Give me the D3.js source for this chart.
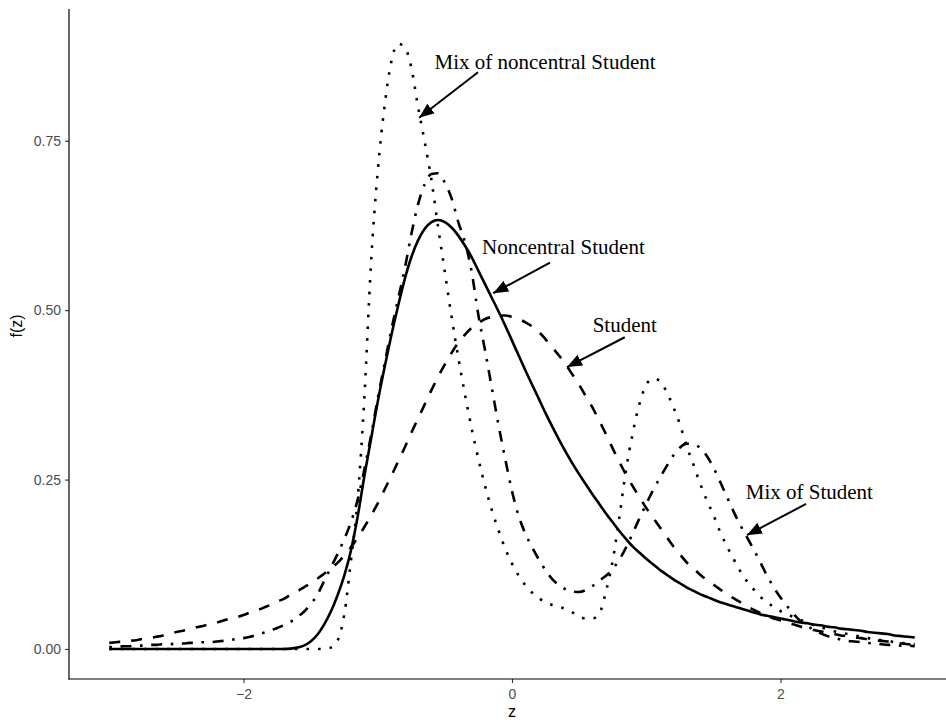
<!DOCTYPE html>
<html>
<head>
<meta charset="utf-8">
<script src="https://cdn.jsdelivr.net/npm/d3@7"></script>
<style>
  html, body { margin: 0; padding: 0; background: #fff; }
  svg { display: block; }
</style>
</head>
<body>
<svg id="chart" width="946" height="722"></svg>
<script>
// ---------- data ----------
const z = [
 -3.00,-2.95,-2.90,-2.85,-2.80,-2.75,-2.70,-2.65,-2.60,-2.55,
 -2.50,-2.45,-2.40,-2.35,-2.30,-2.25,-2.20,-2.15,-2.10,-2.05,
 -2.00,-1.95,-1.90,-1.85,-1.80,-1.75,-1.70,-1.65,-1.60,-1.55,
 -1.50,-1.45,-1.40,-1.35,-1.30,-1.25,-1.20,-1.15,-1.10,-1.05,
 -1.00,-0.95,-0.90,-0.85,-0.80,-0.75,-0.70,-0.65,-0.60,-0.55,
 -0.50,-0.45,-0.40,-0.35,-0.30,-0.25,-0.20,-0.15,-0.10,-0.05,
  0.00, 0.05, 0.10, 0.15, 0.20, 0.25, 0.30, 0.35, 0.40, 0.45,
  0.50, 0.55, 0.60, 0.65, 0.70, 0.75, 0.80, 0.85, 0.90, 0.95,
  1.00, 1.05, 1.10, 1.15, 1.20, 1.25, 1.30, 1.35, 1.40, 1.45,
  1.50, 1.55, 1.60, 1.65, 1.70, 1.75, 1.80, 1.85, 1.90, 1.95,
  2.00, 2.05, 2.10, 2.15, 2.20, 2.25, 2.30, 2.35, 2.40, 2.45,
  2.50, 2.55, 2.60, 2.65, 2.70, 2.75, 2.80, 2.85, 2.90, 2.95,
  3.00
];

// Noncentral Student (solid)
const noncentralStudent = [
 0,0,0,0,0,0,0,0,0,0,
 0,0,0,0,0,0,0,0,0,0,
 0,0,0,0,0,0,0,0.0005,0.002,0.005,
 0.011,0.021,0.036,0.055,0.079,0.108,0.145,0.195,0.255,0.310,
 0.365,0.415,0.462,0.505,0.545,0.578,0.603,0.620,0.630,0.633,
 0.630,0.622,0.610,0.595,0.578,0.558,0.538,0.518,0.498,0.477,
 0.455,0.433,0.411,0.390,0.369,0.348,0.328,0.309,0.291,0.274,
 0.258,0.243,0.228,0.214,0.200,0.187,0.174,0.162,0.151,0.142,
 0.133,0.125,0.117,0.110,0.103,0.097,0.091,0.086,0.081,0.077,
 0.073,0.069,0.066,0.063,0.060,0.057,0.054,0.051,0.049,0.047,
 0.045,0.043,0.041,0.039,0.038,0.036,0.035,0.033,0.032,0.030,
 0.029,0.028,0.027,0.025,0.024,0.023,0.022,0.020,0.019,0.018,
 0.017
];

// Student (dashed)
const student = [
 0.009,0.010,0.011,0.012,0.013,0.015,0.016,0.018,0.020,0.023,
 0.025,0.027,0.029,0.032,0.034,0.037,0.039,0.042,0.045,0.047,
 0.050,0.054,0.057,0.061,0.065,0.070,0.074,0.080,0.085,0.091,
 0.097,0.104,0.111,0.119,0.127,0.138,0.150,0.164,0.180,0.197,
 0.215,0.235,0.255,0.276,0.297,0.319,0.340,0.361,0.382,0.402,
 0.420,0.437,0.452,0.464,0.474,0.481,0.487,0.490,0.492,0.492,
 0.490,0.487,0.482,0.476,0.468,0.457,0.445,0.433,0.420,0.405,
 0.390,0.373,0.356,0.337,0.317,0.296,0.276,0.257,0.240,0.224,
 0.208,0.194,0.180,0.166,0.152,0.140,0.128,0.119,0.110,0.102,
 0.095,0.088,0.081,0.075,0.069,0.063,0.058,0.053,0.049,0.045,
 0.042,0.039,0.036,0.033,0.031,0.028,0.026,0.024,0.022,0.020,
 0.019,0.017,0.016,0.014,0.013,0.012,0.011,0.010,0.008,0.007,
 0.006
];

// Mix of noncentral Student (dotted)
const mixNoncentralStudent = [
 0,0,0,0,0,0,0,0,0,0,
 0,0,0,0,0,0,0,0,0,0,
 0,0,0,0,0,0,0,0,0,0,
 0,0,0,0.002,0.012,0.050,0.130,0.220,0.370,0.570,
 0.705,0.800,0.866,0.893,0.888,0.858,0.800,0.748,0.692,0.622,
 0.556,0.490,0.430,0.375,0.325,0.280,0.240,0.205,0.175,0.148,
 0.126,0.108,0.094,0.083,0.075,0.069,0.065,0.062,0.059,0.054,
 0.048,0.045,0.045,0.052,0.085,0.130,0.195,0.265,0.319,0.362,
 0.390,0.399,0.396,0.380,0.358,0.332,0.300,0.273,0.245,0.220,
 0.198,0.173,0.152,0.133,0.115,0.100,0.088,0.077,0.069,0.062,
 0.056,0.051,0.047,0.043,0.039,0.035,0.032,0.029,0.026,0.024,
 0.022,0.020,0.018,0.016,0.015,0.013,0.012,0.010,0.009,0.008,
 0.007
];

// Mix of Student (dot-dash)
const mixStudent = [
 0.003,0.003,0.004,0.004,0.005,0.005,0.006,0.006,0.007,0.007,
 0.008,0.008,0.009,0.009,0.010,0.010,0.011,0.012,0.013,0.015,
 0.016,0.018,0.021,0.024,0.027,0.031,0.035,0.040,0.047,0.055,
 0.066,0.080,0.100,0.120,0.140,0.162,0.187,0.220,0.265,0.315,
 0.370,0.420,0.470,0.515,0.560,0.612,0.656,0.686,0.701,0.702,
 0.688,0.665,0.630,0.600,0.556,0.492,0.440,0.385,0.330,0.280,
 0.233,0.196,0.170,0.150,0.132,0.116,0.103,0.094,0.088,0.085,
 0.084,0.087,0.093,0.101,0.108,0.118,0.132,0.150,0.171,0.193,
 0.214,0.234,0.252,0.269,0.285,0.297,0.303,0.302,0.297,0.285,
 0.268,0.247,0.225,0.203,0.183,0.165,0.147,0.128,0.108,0.091,
 0.076,0.063,0.051,0.041,0.034,0.028,0.023,0.019,0.016,0.014,
 0.012,0.011,0.010,0.009,0.008,0.007,0.006,0.006,0.005,0.005,
 0.004
];

const xTicks = [-2, 0, 2];
const yTicks = [0, 0.25, 0.5, 0.75];
const yTickLabels = ["0.00", "0.25", "0.50", "0.75"];

// annotations
const annLabels = ["Mix of noncentral Student", "Noncentral Student", "Student", "Mix of Student"];
const annTextX = [0.246, 0.383, 0.84, 2.215];
const annTextY = [0.867, 0.593, 0.478, 0.232];
const annFromX = [-0.253, 0.283, 0.84, 2.19];
const annFromY = [0.851, 0.570, 0.460, 0.214];
const annToX   = [-0.692, -0.14, 0.41, 1.75];
const annToY   = [0.784, 0.525, 0.416, 0.168];

// ---------- drawing ----------
const svg = d3.select("#chart");
const W = 946, H = 722;
const x = d3.scaleLinear().domain([-3.3, 3.3]).range([69, 955]);
const y = d3.scaleLinear().domain([-0.0443, 0.9444]).range([679, 9]);

const series = [
  {name: "Noncentral Student", values: noncentralStudent, dash: null},
  {name: "Student", values: student, dash: "11,11"},
  {name: "Mix of noncentral Student", values: mixNoncentralStudent, dash: "2.6,9"},
  {name: "Mix of Student", values: mixStudent, dash: "2.6,8.6,11,8.6"}
];

const line = d3.line()
  .x((d, i) => x(z[i]))
  .y(d => y(d))
  .curve(d3.curveMonotoneX);

svg.append("defs").append("clipPath").attr("id", "clip")
  .append("rect").attr("x", 69).attr("y", 9).attr("width", W - 69).attr("height", 670);

const g = svg.append("g").attr("clip-path", "url(#clip)");
g.selectAll("path.series").data(series).enter().append("path")
  .attr("class", "series")
  .attr("d", d => line(d.values))
  .attr("fill", "none")
  .attr("stroke", "#000")
  .attr("stroke-width", 2.6)
  .attr("stroke-dasharray", d => d.dash)
  .attr("stroke-linejoin", "round");

// axes
const xAxis = d3.axisBottom(x).tickValues(xTicks).tickSize(4).tickPadding(6)
  .tickFormat(d => d === 0 ? "0" : (d < 0 ? "\u2212" + Math.abs(d) : String(d)));
const yAxis = d3.axisLeft(y).tickValues(yTicks).tickSize(4).tickPadding(4)
  .tickFormat((d, i) => yTickLabels[i]);

const gx = svg.append("g").attr("transform", "translate(0,679)").call(xAxis);
const gy = svg.append("g").attr("transform", "translate(69,0)").call(yAxis);
gx.select(".domain").remove();
gy.select(".domain").remove();
[gx, gy].forEach(a => {
  a.selectAll(".tick line").attr("stroke", "#333").attr("stroke-width", 1.1);
  a.selectAll(".tick text").attr("fill", "#4d4d4d")
    .style("font-family", "'Liberation Sans', Arial, sans-serif").style("font-size", "14px");
});
svg.append("line").attr("x1", 69).attr("x2", 69).attr("y1", 9).attr("y2", 679.5)
  .attr("stroke", "#000").attr("stroke-width", 1.2);
svg.append("line").attr("x1", 68.5).attr("x2", W).attr("y1", 679).attr("y2", 679)
  .attr("stroke", "#000").attr("stroke-width", 1.2);

// axis titles
svg.append("text").attr("x", 512).attr("y", 717).attr("text-anchor", "middle")
  .style("font-family", "'Liberation Sans', Arial, sans-serif").style("font-size", "16px")
  .text("z");
svg.append("text").attr("transform", "translate(22,326) rotate(-90)").attr("text-anchor", "middle")
  .style("font-family", "'Liberation Sans', Arial, sans-serif").style("font-size", "16px")
  .text("f(z)");

// annotations
svg.select("defs").append("marker")
  .attr("id", "arrow").attr("markerUnits", "userSpaceOnUse")
  .attr("markerWidth", 16).attr("markerHeight", 16)
  .attr("viewBox", "0 -8 16 16").attr("refX", 15).attr("refY", 0)
  .attr("orient", "auto")
  .append("path").attr("d", "M0,-6L15,0L0,6Z").attr("fill", "#000");

annLabels.forEach((lab, i) => {
  svg.append("line")
    .attr("x1", x(annFromX[i])).attr("y1", y(annFromY[i]))
    .attr("x2", x(annToX[i])).attr("y2", y(annToY[i]))
    .attr("stroke", "#000").attr("stroke-width", 2)
    .attr("marker-end", "url(#arrow)");
  svg.append("text")
    .attr("x", x(annTextX[i])).attr("y", y(annTextY[i]))
    .attr("dy", "0.35em")
    .attr("text-anchor", "middle")
    .style("font-family", "'Liberation Serif', 'Times New Roman', serif")
    .style("font-size", "21px")
    .text(lab);
});
</script>
</body>
</html>
